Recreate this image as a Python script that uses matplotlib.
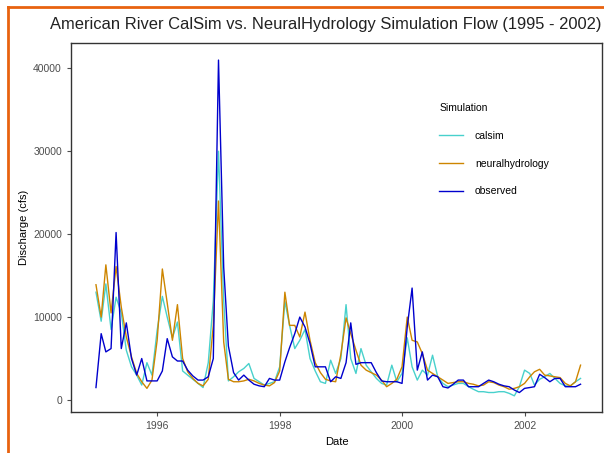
import matplotlib
matplotlib.use("Agg")
import matplotlib.pyplot as plt
import matplotlib.dates as mdates
from matplotlib.lines import Line2D
import pandas as pd

# monthly flows, Jan 1995 - Dec 2002 (cfs)
dates = pd.date_range("1995-01-01", "2002-12-01", freq="MS")

calsim = [13000, 9500, 14000, 8500, 12400, 10500, 6000, 4000, 3000, 1800, 4500, 3000,
          8400, 12500, 10000, 7500, 9400, 3500, 3000, 2500, 2000, 1500, 4500, 12000,
          30000, 12000, 2300, 2800, 3400, 3800, 4400, 2600, 2200, 1800, 2000, 2200,
          4000, 11900, 9000, 6200, 7200, 8500, 5000, 3500, 2200, 2000, 4800, 3200,
          5000, 11500, 5000, 3200, 6200, 4200, 3400, 2600, 2000, 1800, 4200, 2200,
          3200, 7500, 4000, 2400, 3600, 3000, 5400, 2800, 2000, 1600, 1800, 2000,
          2000, 1600, 1300, 1000, 1000, 900, 900, 1000, 1000, 800, 500, 1600,
          3600, 3200, 1800, 2500, 2800, 3200, 2600, 2000, 1700, 1700, 2200, 2600]

neuralhydrology = [13900, 10000, 16300, 10500, 16100, 11200, 7600, 5200, 3200, 2200, 1400, 2400,
                   7200, 15800, 11700, 7200, 11500, 5000, 3400, 2600, 2000, 1700, 2500, 9000,
                   24000, 7000, 2500, 2200, 2200, 2300, 2500, 2300, 2000, 1800, 1700, 2100,
                   3500, 13000, 9000, 9000, 7600, 10600, 7200, 4500, 3300, 2500, 2300, 2200,
                   5500, 9900, 8000, 6000, 4200, 3600, 3300, 3000, 2400, 1600, 2000, 2500,
                   4000, 10000, 7200, 7000, 5600, 3600, 3200, 2800, 2400, 2000, 2100, 2200,
                   2200, 2000, 1900, 1700, 1800, 2200, 2100, 1800, 1600, 1300, 1400, 1600,
                   2000, 2800, 3400, 3700, 3000, 2900, 2800, 2700, 2000, 1700, 2200, 4200]

observed = [1500, 8000, 5800, 6200, 20200, 6200, 9300, 5000, 3000, 5000, 2300, 2300,
            2300, 3500, 7400, 5200, 4700, 4700, 3600, 2900, 2400, 2400, 2800, 5000,
            41000, 16000, 6500, 3300, 2400, 3000, 2400, 1900, 1700, 1600, 2600, 2400,
            2400, 4600, 6300, 8000, 10000, 8800, 6800, 4000, 4000, 4000, 2200, 2800,
            2600, 4500, 9300, 4300, 4500, 4500, 4500, 3300, 2300, 2200, 2200, 2200,
            2000, 8800, 13500, 3600, 5800, 2400, 3000, 2800, 1600, 1450, 1900, 2400,
            2400, 1600, 1600, 1600, 2000, 2400, 2200, 1900, 1700, 1600, 1200, 900,
            1400, 1500, 1600, 3100, 2700, 2200, 2600, 2600, 1600, 1600, 1600, 1900]

plt.rcParams['font.family'] = ['Liberation Sans', 'DejaVu Sans']

fig = plt.figure(figsize=(6.04, 4.53), dpi=100)
ax = fig.add_axes([71/604, 1-412/453, (602-71)/604, (412-43)/453])

ax.plot(dates, calsim, color="#48D1CC", lw=1, label="calsim")
ax.plot(dates, neuralhydrology, color="#CD8500", lw=1, label="neuralhydrology")
ax.plot(dates, observed, color="#0000CD", lw=1, label="observed")

ax.set_xlim(pd.Timestamp("1994-08-05"), pd.Timestamp("2003-04-08"))
ax.set_ylim(-1450, 43060)
ax.set_yticks([0, 10000, 20000, 30000, 40000])
ax.xaxis.set_major_locator(mdates.YearLocator(2))
ax.xaxis.set_major_formatter(mdates.DateFormatter("%Y"))
ax.tick_params(colors="#4D4D4D", labelsize=7.5, length=3, width=0.8)
for s in ax.spines.values():
    s.set_color("#333333")
    s.set_linewidth(1)

ax.set_xlabel("Date", fontsize=8, labelpad=4)
ax.set_ylabel("Discharge (cfs)", fontsize=8, labelpad=3)

leg = ax.legend(loc="upper left", bbox_to_anchor=(430/604, 1-94/453),
                bbox_transform=fig.transFigure, frameon=False, title="Simulation",
                fontsize=7.5, title_fontsize=7.5, labelspacing=1.7,
                handlelength=2.3, handletextpad=1.1)
leg._legend_box.align = "left"

fig.text(50/604, 1-25/453, "American River CalSim vs. NeuralHydrology Simulation Flow (1995 - 2002)",
         fontsize=11.9, ha="left", va="center", color="#222222")

# orange frame of the screenshot
fig.add_artist(Line2D([8/604, 8/604], [0, 1-7/453], color="#E8620F", lw=2))
fig.add_artist(Line2D([8/604, 1], [1-7/453, 1-7/453], color="#E8620F", lw=2))

fig.savefig("out.png", dpi=100)
